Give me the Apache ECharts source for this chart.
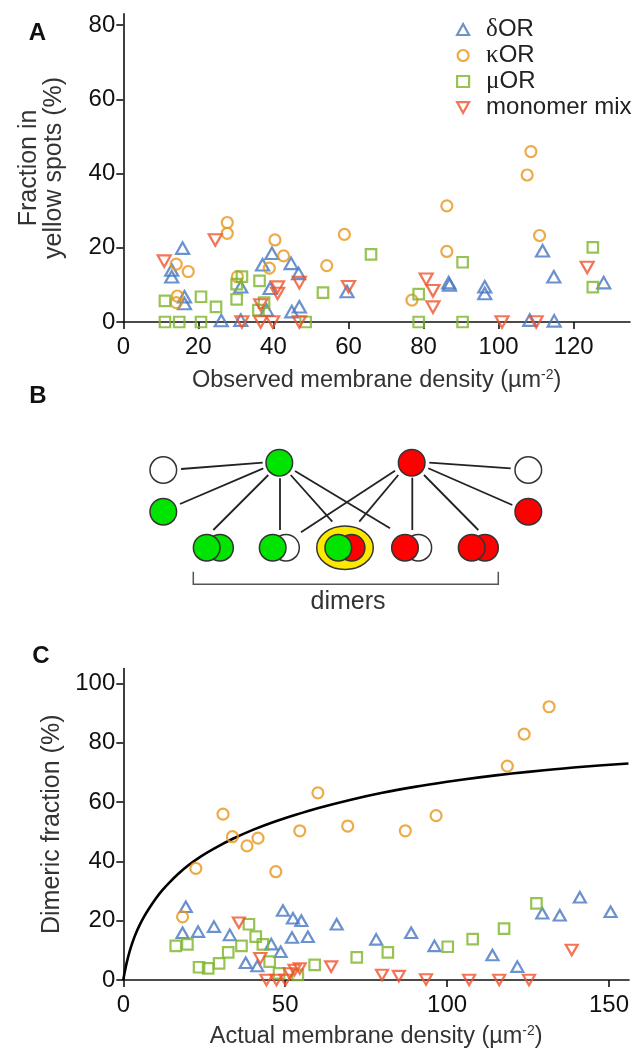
<!DOCTYPE html>
<html>
<head>
<meta charset="utf-8">
<script src="https://cdn.jsdelivr.net/npm/echarts@6/dist/echarts.min.js"></script>
<style>
  html, body { margin: 0; padding: 0; background: #fff; }
  #chart { width: 632px; height: 1050px; }
</style>
</head>
<body>
<div id="chart"></div>
<script>
// ---- data: panel A (observed density vs fraction in yellow spots) ----
const seriesNames = ['δOR', 'κOR', 'μOR', 'monomer mix'];

const aDelta = [[12.9,14.0],[12.9,12.2],[15.8,19.9],[16.3,6.8],[16.3,5.0],[26.1,0.4],[31.3,9.5],[31.3,0.5],
  [37.1,15.4],[39.6,18.5],[39.1,9.1],[38.2,3.2],[44.7,15.8],[46.7,13.1],[44.9,2.8],[46.9,4.1],[59.6,8.2],
  [86.7,10.6],[86.9,10.0],[96.3,9.5],[96.3,7.7],[111.7,19.2],[114.7,12.2],[128,10.6],[108.3,0.5],[114.8,0.3]];
const aKappa = [[14.1,15.6],[17.3,13.6],[14.4,7.0],[14.1,5.2],[27.7,26.8],[27.7,23.9],[30.4,12.2],[40.4,22.1],
  [38.9,14.5],[42.7,17.8],[54.2,15.2],[58.9,23.6],[76.9,5.9],[86.2,31.3],[86.2,19.0],[107.6,39.6],[108.6,45.9],[110.9,23.3]];
const aMu = [[11.1,5.7],[11.1,0],[14.9,0],[20.7,6.8],[20.7,0],[24.7,4.1],[30.2,6.1],[30.2,10.2],[31.6,12.2],
  [36.3,11.1],[37.5,5.2],[36.0,3.2],[48.6,0],[53.2,7.9],[66.0,18.2],[78.7,7.5],[78.7,0],[90.4,16.1],[90.4,0],
  [125.1,20.1],[125.1,9.4]];
const aMix = [[10.9,16.4],[24.5,22.1],[31.6,0],[36.6,4.6],[36.6,0],[39.8,0],[41.1,9.4],[41.1,7.7],[46.9,10.6],
  [46.9,0],[60.0,9.5],[80.7,11.5],[82.5,8.4],[82.5,4.0],[100.9,0],[110.0,0],[123.6,14.7]];

// ---- data: panel C (actual density vs dimeric fraction) ----
const cDelta = [[19.3,24.7],[18.3,15.9],[23.1,16.3],[28.0,18.0],[32.9,15.2],[37.8,5.8],[41.4,4.7],[45.7,12.1],
  [48.6,9.5],[49.3,23.4],[52.4,20.8],[55.0,20.0],[52.1,14.3],[57.0,14.6],[65.9,18.8],[78.1,13.7],[88.9,15.9],
  [96.1,11.5],[114.0,8.4],[121.7,4.5],[129.4,22.5],[134.8,21.8],[141.0,27.9],[150.5,23.0]];
const cKappa = [[18.3,21.3],[22.4,37.6],[30.8,55.9],[33.7,48.3],[38.2,45.2],[41.6,47.8],[47.1,36.5],[54.5,50.3],
  [60.1,63.1],[69.3,51.9],[87.1,50.3],[96.6,55.4],[118.6,72.1],[123.8,82.9],[131.5,92.1]];
const cMu = [[16.2,11.5],[19.8,12.0],[23.4,4.3],[26.2,3.9],[29.6,5.6],[32.4,9.3],[36.5,11.5],[38.8,18.8],
  [40.9,14.6],[43.1,12.0],[45.2,6.2],[48.1,2.2],[53.9,1.7],[59.1,5.1],[72.1,7.6],[81.7,9.3],[100.2,11.2],
  [107.9,13.8],[117.6,17.3],[127.6,25.8]];
const cMix = [[35.7,19.3],[42.3,7.3],[44.2,0],[47.3,0],[50.1,0],[51.4,2.2],[52.9,3.4],[54.5,3.9],[64.2,4.5],
  [79.9,1.7],[85.1,1.3],[93.5,0.2],[106.8,0],[116.1,0],[125.3,0],[138.5,10.1]];
// model curve
const cCurve = [[0,0],[0.5,3],[1,5.6],[2,9.8],[3,13.2],[4,16],[5,18.4],[6.5,21.5],[8,24.2],[10,27.4],
  [12,30.2],[14,32.6],[17,35.8],[20,38.6],[24,41.7],[29,44.9],[34,47.7],[40,50.6],[46,53.1],[53,55.6],
  [60,57.9],[70,60.7],[80,63.1],[90,65.1],[100,66.8],[110,68.3],[120,69.6],[130,70.7],[140,71.7],[156,73]];

// tick labels
const aXTicks = [0, 20, 40, 60, 80, 100, 120];
const aYTicks = [0, 20, 40, 60, 80];
const cXTicks = [0, 50, 100, 150];
const cYTicks = [0, 20, 40, 60, 80, 100];

// ---- styles ----
const colors = ['#4677c0', '#e8961a', '#7db42a', '#f0522a'];
const downTri = 'path://M0,0L10,0L5,9Z';
const symbols = ['triangle', 'circle', 'rect', downTri];
const sizesA = [[13, 11.5], 11, 10.5, [13, 11.5]];
const sizesC = [[12, 10.5], 11, 10.5, [12, 10.5]];

const FONT = 'Liberation Sans, Arial, sans-serif';

function valueAxis(gridIndex, min, max, ticks, opts) {
  return Object.assign({
    type: 'value',
    gridIndex: gridIndex,
    min: min,
    max: max,
    splitLine: { show: false },
    axisLine: { show: true, onZero: false, lineStyle: { color: '#111', width: 1.6 } },
    axisTick: { show: true, length: 7, lineStyle: { color: '#111', width: 1.6 }, customValues: ticks },
    axisLabel: { fontSize: 24, color: '#111', fontFamily: FONT, customValues: ticks },
    nameLocation: 'middle',
    nameTextStyle: { fontSize: 25, color: '#333', fontFamily: FONT, lineHeight: 25 }
  }, opts);
}

function supName(text) {
  return '{a|' + text + ' (µm}{s|-2}{a|)}';
}
const supRich = {
  a: { fontSize: 23.5, color: '#333', fontFamily: FONT },
  s: { fontSize: 14, color: '#333', fontFamily: FONT, verticalAlign: 'top', padding: [0, 0, 12, 0] }
};

function scatter(data, i, xIdx, yIdx, sizes) {
  return {
    type: 'scatter',
    name: seriesNames[i],
    xAxisIndex: xIdx,
    yAxisIndex: yIdx,
    data: data,
    symbol: symbols[i],
    symbolSize: sizes[i],
    itemStyle: { color: 'rgba(255,255,255,0)', borderColor: colors[i], borderWidth: 2.2 },
    z: 3
  };
}

// ---- panel B schematic ----
const G = '#00e400', R = '#ff0000', W = '#ffffff';
const rad = 13.3;
const singles = [[163.3, 470, W], [163.3, 511.7, G], [279.3, 462.7, G], [411.7, 462.7, R], [528.3, 470, W], [528.3, 511.7, R]];
// [front cx, front colour, back colour]
const dimers = [[206.7, G, G], [272.7, G, W], [338.3, G, R], [405, R, W], [471.7, R, R]];
const dimerY = 547.7;
const links = [
  [181, 469, 262.7, 462.7], [180, 504, 263.3, 468.3], [213.3, 530, 268.3, 475], [280, 530, 280, 478.3],
  [332.3, 521.7, 290.7, 475], [390, 528.3, 295, 471],
  [429.3, 462.7, 510.7, 468.3], [428.3, 468.3, 512.3, 505], [424, 475, 478.3, 530], [412.3, 477.7, 412.3, 530],
  [398.3, 475, 359.3, 521.7], [395, 470.7, 301, 532.3]
];

const graphic = [];
links.forEach(l => graphic.push({
  type: 'line', shape: { x1: l[0], y1: l[1], x2: l[2], y2: l[3] },
  style: { stroke: '#222', lineWidth: 1.8 }
}));
singles.forEach(s => graphic.push({
  type: 'circle', shape: { cx: s[0], cy: s[1], r: rad },
  style: { fill: s[2], stroke: '#333', lineWidth: 1.5 }
}));
graphic.push({
  type: 'ellipse', shape: { cx: 345, cy: dimerY, rx: 28.3, ry: 21.7 },
  style: { fill: '#ffe800', stroke: '#333', lineWidth: 1.5 }
});
dimers.forEach(d => {
  graphic.push({
    type: 'circle', shape: { cx: d[0] + 13.3, cy: dimerY, r: rad },
    style: { fill: d[2], stroke: '#333', lineWidth: 1.5 }
  });
  graphic.push({
    type: 'circle', shape: { cx: d[0], cy: dimerY, r: rad },
    style: { fill: d[1], stroke: '#333', lineWidth: 1.5 }
  });
});
graphic.push({
  type: 'polyline', shape: { points: [[193.3, 571.7], [193.3, 584.3], [498.3, 584.3], [498.3, 571.7]] },
  style: { stroke: '#555', lineWidth: 1.5, fill: null }
});
graphic.push({
  type: 'text', x: 348, y: 602,
  style: { text: 'dimers', font: '25px ' + FONT, fill: '#333', align: 'center', verticalAlign: 'middle' }
});

// panel letters
[['A', 37.5, 33.5], ['B', 38, 396], ['C', 41, 656]].forEach(p => graphic.push({
  type: 'text', x: p[1], y: p[2],
  style: { text: p[0], font: 'bold 24px ' + FONT, fill: '#111', align: 'center', verticalAlign: 'middle' }
}));

const greek = { 'δOR': '{g|δ}OR', 'κOR': '{g|κ}OR', 'μOR': '{g|μ}OR', 'monomer mix': 'monomer mix' };

const option = {
  animation: false,
  backgroundColor: '#fff',
  textStyle: { fontFamily: FONT },
  grid: [
    { left: 123.3, width: 506.7, top: 13.9, height: 308.1 },
    { left: 123.3, width: 506.7, top: 668.5, height: 311.5 }
  ],
  xAxis: [
    valueAxis(0, 0, 135, aXTicks, { name: supName('Observed membrane density'), nameGap: 46,
      nameTextStyle: { rich: supRich } , axisLabel: { fontSize: 24, color: '#111', fontFamily: FONT, margin: 13, customValues: aXTicks } }),
    valueAxis(1, 0, 156.2, cXTicks, { name: supName('Actual membrane density'), nameGap: 44,
      nameTextStyle: { rich: supRich }, axisLabel: { fontSize: 24, color: '#111', fontFamily: FONT, margin: 13, customValues: cXTicks } })
  ],
  yAxis: [
    valueAxis(0, 0, 83, aYTicks, { name: 'Fraction in\nyellow spots (%)', nameGap: 57 }),
    valueAxis(1, 0, 105, cYTicks, { name: 'Dimeric fraction (%)', nameGap: 59 })
  ],
  legend: {
    data: seriesNames,
    orient: 'vertical',
    left: 451,
    top: 12,
    itemWidth: 12,
    itemHeight: 11,
    itemGap: 1,
    itemStyle: { borderWidth: 2.2 },
    formatter: n => greek[n],
    textStyle: {
      fontSize: 24, color: '#222', fontFamily: FONT, lineHeight: 25, padding: [0, 0, 0, 12],
      rich: { g: { fontSize: 25, fontFamily: 'Liberation Serif', color: '#222', lineHeight: 25 } }
    }
  },
  graphic: graphic,
  series: [
    scatter(aDelta, 0, 0, 0, sizesA),
    scatter(aKappa, 1, 0, 0, sizesA),
    scatter(aMu, 2, 0, 0, sizesA),
    scatter(aMix, 3, 0, 0, sizesA),
    scatter(cDelta, 0, 1, 1, sizesC),
    scatter(cKappa, 1, 1, 1, sizesC),
    scatter(cMu, 2, 1, 1, sizesC),
    scatter(cMix, 3, 1, 1, sizesC),
    {
      type: 'line',
      name: 'model',
      xAxisIndex: 1,
      yAxisIndex: 1,
      data: cCurve,
      showSymbol: false,
      smooth: 0.3,
      lineStyle: { color: '#000', width: 2.6 },
      z: 2
    }
  ]
};

const chart = echarts.init(document.getElementById('chart'), null, { renderer: 'canvas' });
chart.setOption(option);
</script>
</body>
</html>
